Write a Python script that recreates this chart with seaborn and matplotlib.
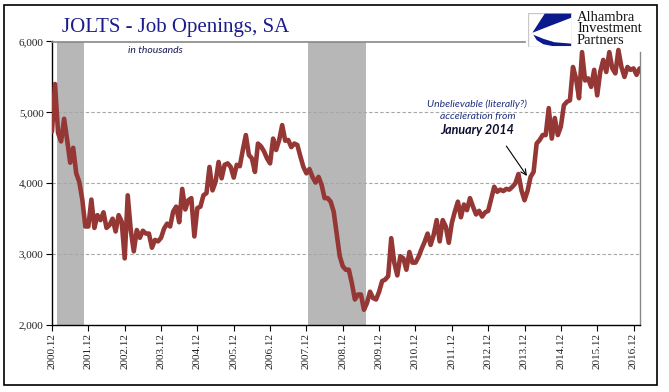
import numpy as np
import pandas as pd
import matplotlib
matplotlib.use("Agg")
import matplotlib.pyplot as plt
import seaborn as sns
from matplotlib.patches import Rectangle, Polygon

# JOLTS job openings, SA (thousands), monthly from 2000.12 - one row per Dec..Nov year
openings = [
    4730, 5400, 4710, 4590, 4910, 4610, 4290, 4500, 4140, 4020, 3770, 3390,
    3390, 3770, 3370, 3550, 3480, 3590, 3370, 3410, 3500, 3320, 3550, 3460,
    2940, 3830, 3340, 3040, 3340, 3230, 3330, 3290, 3290, 3090, 3200, 3180,
    3230, 3360, 3430, 3390, 3600, 3670, 3450, 3920, 3630, 3760, 3790, 3250,
    3650, 3670, 3830, 3860, 4230, 3900, 4020, 4300, 4070, 4260, 4280, 4230,
    4080, 4260, 4240, 4470, 4680, 4400, 4350, 4160, 4560, 4520, 4450, 4350,
    4280, 4630, 4470, 4610, 4820, 4600, 4610, 4510, 4560, 4540, 4380, 4230,
    4140, 4200, 4090, 4010, 4090, 3980, 3790, 3790, 3740, 3600, 3290, 2970,
    2830, 2780, 2780, 2590, 2360, 2430, 2430, 2215, 2310, 2470, 2380, 2360,
    2470, 2620, 2640, 2690, 3225, 2880, 2700, 2970, 2940, 2780, 3030, 2880,
    2880, 2960, 3070, 3170, 3290, 3130, 3270, 3480, 3180, 3480, 3390, 3160,
    3440, 3600, 3740, 3520, 3700, 3620, 3790, 3670, 3560, 3610, 3530, 3590,
    3610, 3780, 3950, 3880, 3910, 3890, 3920, 3910, 3950, 4000, 4130, 3900,
    3760, 3890, 4090, 4160, 4560, 4610, 4680, 4680, 5060, 4630, 4920, 4680,
    4800, 5100, 5150, 5170, 5640, 5480, 5200, 5850, 5450, 5480, 5360, 5600,
    5240, 5570, 5740, 5570, 5850, 5620, 5550, 5880, 5640, 5500, 5640, 5600,
    5620, 5530, 5620,
]

tick_labels = ["2000.12", "2001.12", "2002.12", "2003.12", "2004.12", "2005.12",
               "2006.12", "2007.12", "2008.12", "2009.12", "2010.12", "2011.12",
               "2012.12", "2013.12", "2014.12", "2015.12", "2016.12"]
y_ticks = [2000, 3000, 4000, 5000, 6000]

# recessions, in months from 2000.12
recession_start = [1.7, 84.5]
recession_end = [10.6, 103.7]

df = pd.DataFrame({"month": np.arange(len(openings)), "openings": openings})

sns.set_style("white")
plt.rcParams["font.family"] = ["Liberation Serif", "DejaVu Serif"]

fig = plt.figure(figsize=(6.69, 3.92), dpi=100)
ax = fig.add_axes([52 / 669, 1 - 325 / 392, 587.6 / 669, 283.5 / 392])

for s, e in zip(recession_start, recession_end):
    ax.axvspan(s, e, color="#b7b7b7", lw=0, zorder=0)

sns.lineplot(data=df, x="month", y="openings", ax=ax, color="#953735",
             linewidth=3.3, zorder=3)

ax.set_xlim(0, len(openings) - 1)
ax.set_ylim(y_ticks[0], y_ticks[-1])
ax.set_xticks(np.arange(len(tick_labels)) * 12)
ax.set_xticklabels(tick_labels, rotation=90)
ax.set_yticks(y_ticks)
ax.set_yticklabels([f"{v:,}" for v in y_ticks])
ax.set_xlabel("")
ax.set_ylabel("")

for v in y_ticks[1:-1]:
    ax.axhline(v, color="#a6a6a6", lw=0.8, ls=(0, (3, 2)), zorder=1)

ax.tick_params(axis="both", which="major", direction="out", length=4,
               width=0.8, color="black", labelsize=8, pad=2,
               labelcolor="#222222", bottom=True, left=True)

ax.spines["left"].set_color("black")
ax.spines["bottom"].set_color("black")
ax.spines["left"].set_linewidth(1.0)
ax.spines["bottom"].set_linewidth(1.0)
ax.spines["top"].set_color("#888888")
ax.spines["right"].set_color("#888888")
ax.spines["top"].set_linewidth(1.2)
ax.spines["right"].set_linewidth(1.0)
ax.spines["top"].set_bounds(0, 156.3)
ax.spines["right"].set_bounds(2000, 5850)

# titles and notes
fig.text(62 / 669, 1 - 32 / 392, "JOLTS - Job Openings, SA", fontsize=15,
         color="#1c1c8c", va="baseline", ha="left")
ax.text(0.176, 0.97, "in thousands", transform=ax.transAxes, fontsize=7.5,
        style="italic", family="Lato", color="#1a1a55", ha="center", va="center")

ax.text(140.4, 5117, "Unbelievable (literally?)", fontsize=7.5, style="italic",
        family="Lato", color="#1f2f80", ha="center", va="center")
ax.text(140.4, 4948, "acceleration from", fontsize=7.5, style="italic",
        family="Lato", color="#1f2f80", ha="center", va="center")
ax.text(140.4, 4750, "January 2014", fontsize=9, style="italic", weight="bold",
        family="Lato", color="#0d0d30", ha="center", va="center")
ax.annotate("", xy=(156.8, 4103), xytext=(150.0, 4525),
            arrowprops=dict(arrowstyle="->", color="black", lw=0.8,
                            shrinkA=0, shrinkB=0), zorder=5)

# logo
logo = fig.add_axes([528 / 669, 1 - 47 / 392, 44 / 669, 34 / 392])
logo.set_xlim(0, 1)
logo.set_ylim(0, 1)
logo.axis("off")
logo.add_patch(Rectangle((0, 0), 1, 1, fill=False, ec="#c8c8c8", lw=1))
logo.add_patch(Polygon([(0.38, 0.98), (0.98, 0.98), (0.98, 0.86), (0.1, 0.42)],
                       closed=True, color="#0a1a8c", lw=0))
logo.add_patch(Polygon([(0.12, 0.36), (0.2, 0.2), (0.35, 0.08), (0.55, 0.03),
                        (0.98, 0.03), (0.98, 0.1), (0.6, 0.14), (0.35, 0.24)],
                       closed=True, color="#0a1a8c", lw=0))
fig.text(577 / 669, 1 - 11 / 392, "Alhambra\nInvestment\nPartners", fontsize=10.5,
         color="#111111", va="top", ha="left", linespacing=0.85)

# outer chart border
fig.add_artist(Rectangle((3.5 / 669, 1 - 385 / 392), 653.5 / 669, 380 / 392,
                         transform=fig.transFigure, fill=False, ec="black", lw=1.2))

fig.savefig("out.png", dpi=100)
